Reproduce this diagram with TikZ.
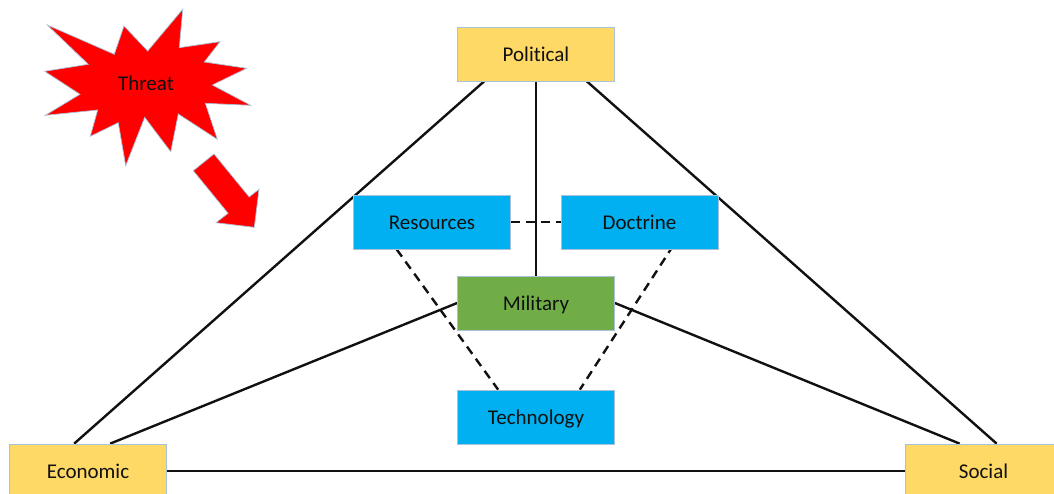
\documentclass[tikz,border=0pt]{standalone}
\usepackage{fontspec}
\setmainfont{Carlito}[Ligatures=NoCommon]
\usetikzlibrary{backgrounds}
\definecolor{boxedge}{HTML}{A9C1D9}
\definecolor{yel}{HTML}{FFD966}
\definecolor{sky}{HTML}{00B0F0}
\definecolor{grn}{HTML}{70AD47}
\definecolor{inkc}{HTML}{111111}
\tikzset{
  label font/.style={font=\fontsize{21}{23}\selectfont,text=inkc,text height=15pt,text depth=0pt},
  box/.style={draw=boxedge,line width=0.7pt,minimum width=157pt,minimum height=54pt,inner sep=0pt,label font},
  yelbox/.style={box,fill=yel},
  skybox/.style={box,fill=sky},
  grnbox/.style={box,fill=grn},
  link/.style={draw=inkc,line width=2.4pt},
  dlink/.style={draw=inkc,line width=2.4pt,dash pattern=on 9pt off 6pt},
  burst/.style={fill=red,draw=boxedge,line width=0.7pt,line join=miter}
}
\begin{document}
\begin{tikzpicture}[x=1pt,y=-1pt]
\useasboundingbox (0,0) rectangle (1054,494);
\clip (0,0) rectangle (1054,494);
\draw[burst] (47.3,25) -- (114.3,54.3) -- (124,26) -- (147.7,51) -- (182.7,9.3) -- (179.3,47.7) -- (220,41.7) -- (204.3,62) -- (246.7,68.3) -- (212.3,85) -- (250.7,105.3) -- (205.3,103.3) -- (217.3,139.3) -- (178.3,114) -- (170.7,151.7) -- (144.7,117.3) -- (125.7,165.7) -- (118.3,122.7) -- (90.3,136.3) -- (97.7,110) -- (45.3,115.3) -- (80,94.3) -- (44.7,71.3) -- (88.3,64.3) -- cycle;
\node[label font,inner sep=0pt] (threat) at (146,83) {Threat};
\draw[burst] (214,154) -- (193.3,170.7) -- (228.1,213.3) -- (216,222.7) -- (254.3,227.3) -- (259,189.3) -- (249.2,197) -- cycle;
\node[yelbox] (political) at (536,54) {Political};
\node[skybox] (resources) at (432,222) {Resources};
\node[skybox] (doctrine) at (639.5,222) {Doctrine};
\node[grnbox] (military) at (536,303) {Military};
\node[skybox] (technology) at (536,417) {Technology};
\node[yelbox] (economic) at (88,471) {Economic};
\node[yelbox] (social) at (983.5,471) {Social};
\begin{scope}[on background layer]
\draw[link] ([xshift=27pt]political.south west) -- ([xshift=65pt]economic.north west);
\draw[link] ([xshift=-28pt]political.south east) -- ([xshift=92pt]social.north west);
\draw[link] (political.south) -- (military.north);
\draw[link] (military.west) -- ([xshift=101pt]economic.north west);
\draw[link] (military.east) -- ([xshift=55pt]social.north west);
\draw[link] (economic.east) -- (social.west);
\draw[dlink] (resources.east) -- (doctrine.west);
\draw[dlink] ([xshift=43.5pt]resources.south west) -- ([xshift=41pt]technology.north west);
\draw[dlink] ([xshift=-45pt,yshift=4pt]doctrine.south east) -- ([xshift=-35pt]technology.north east);
\end{scope}
\end{tikzpicture}
\end{document}
